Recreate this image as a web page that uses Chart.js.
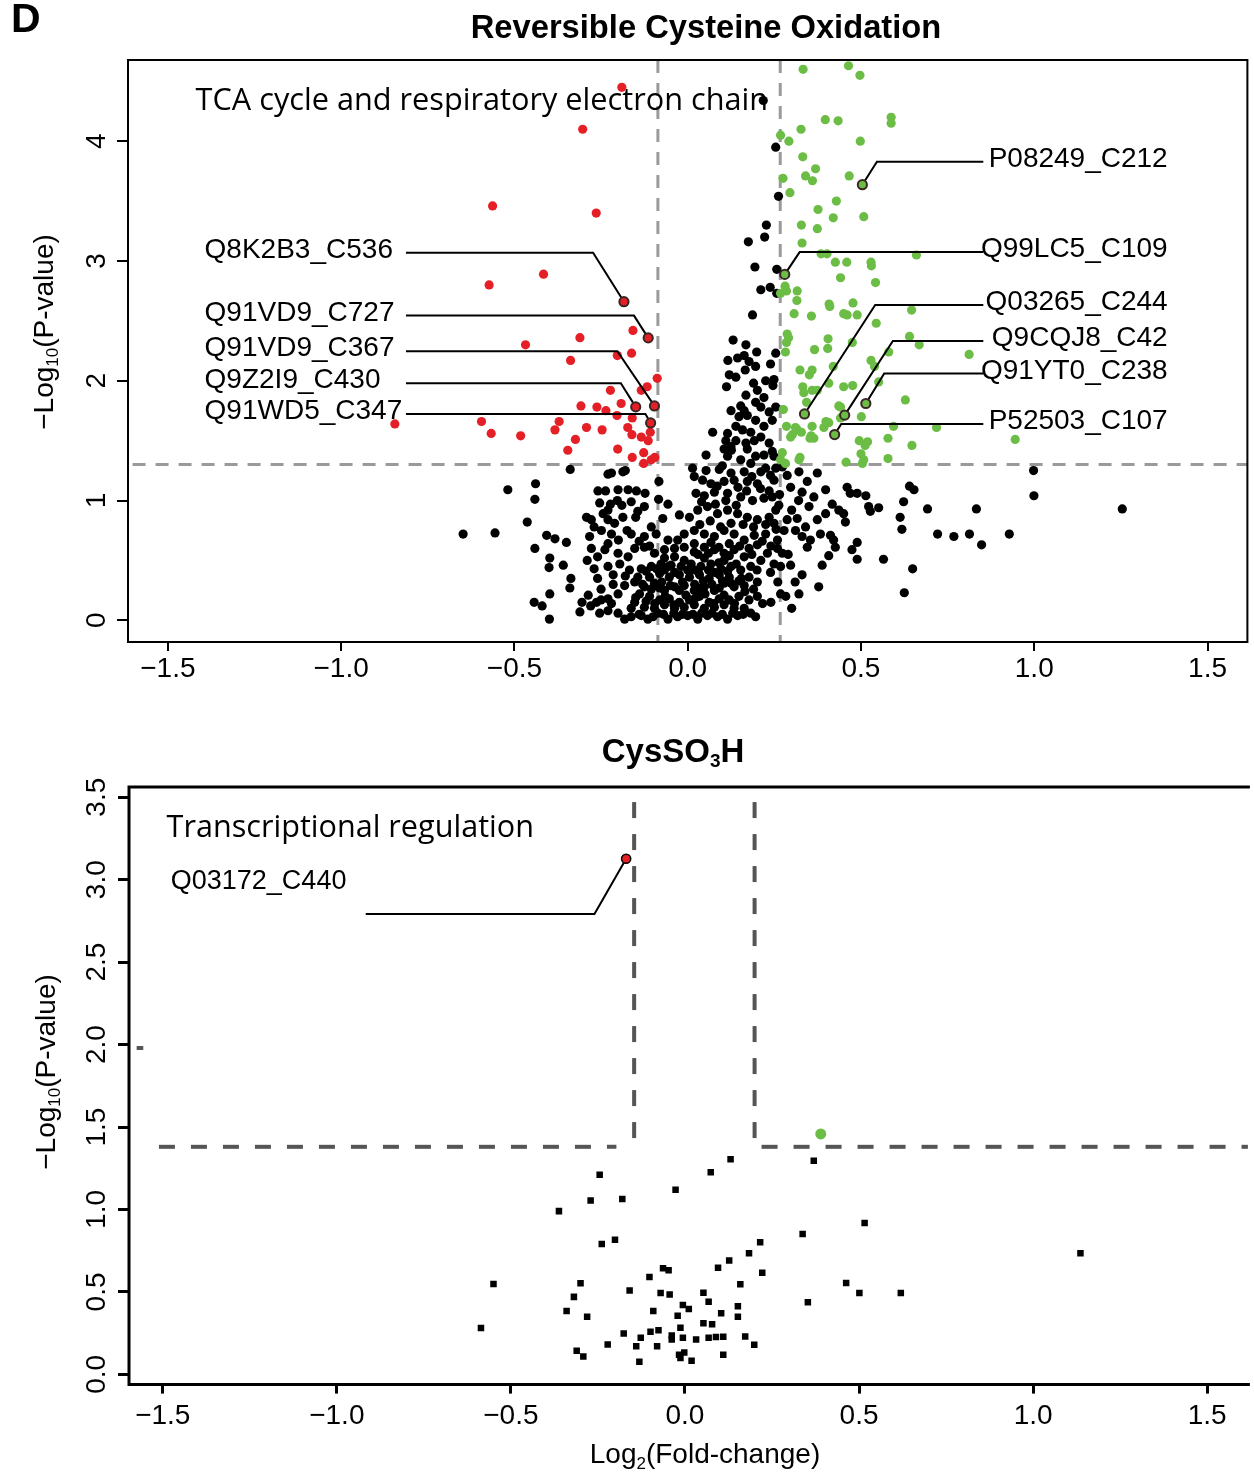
<!DOCTYPE html>
<html>
<head>
<meta charset="utf-8">
<script src="https://cdn.jsdelivr.net/npm/chart.js@4/dist/chart.umd.min.js"></script>
<style>
  body { margin: 0; background: #fff; }
  #wrap { position: relative; width: 1254px; height: 1474px; }
  canvas { position: absolute; left: 0; }
</style>
</head>
<body>
<div id="wrap">
  <canvas id="oxCanvas" width="1254" height="700" style="top:0"></canvas>
  <canvas id="soCanvas" width="1254" height="774" style="top:700px"></canvas>
</div>
<script>
// ---- Reversible Cysteine Oxidation : [log2 fold-change, -log10 p] ----
const oxBlack = [
  [0.218,4.34],[0.254,3.95],[0.262,3.54],[0.227,3.30],[0.222,3.20],[0.175,3.16],[0.194,2.95],[0.257,2.93],[0.211,2.76],[0.238,2.78],[0.257,2.73],[0.187,2.55],[0.131,2.34],
  [0.168,2.30],[0.199,2.24],[0.254,2.23],[0.116,2.17],[0.144,2.19],[0.163,2.21],[0.177,2.16],[0.196,2.12],[0.166,2.09],[0.239,2.14],[0.120,2.05],[0.139,2.03],[0.112,1.95],[0.190,1.98],[0.225,2.00],[0.249,2.01],[0.246,1.96],[0.201,1.92],[0.168,1.88],[0.220,1.86],[0.196,1.82],[0.153,1.79],[0.125,1.75],[0.163,1.75],[0.211,1.78],[0.235,1.74],[0.254,1.78],[0.148,1.70],[0.172,1.71],[0.196,1.67],[0.139,1.62],[0.072,1.57],[0.115,1.56],[0.158,1.59],[0.182,1.57],[0.220,1.62],[0.244,1.67],[0.110,1.50],[0.139,1.50],[0.192,1.50],[0.235,1.48],[0.105,1.43],[0.126,1.42],[0.172,1.43],[0.196,1.37],[0.220,1.38],[0.244,1.41],[0.053,1.38],[0.115,1.37],[0.153,1.34],[0.182,1.31],[0.249,1.37],[0.125,1.45],[0.168,1.48],[0.211,1.53],
  [-0.339,1.26],[-0.230,1.22],[-0.220,1.23],[-0.187,1.24],[-0.180,1.25],[0.254,1.27],[0.273,1.28],[0.014,1.27],[0.053,1.25],[0.091,1.26],[0.125,1.23],[0.163,1.24],[0.211,1.24],[0.239,1.21],
  [-0.439,1.14],[-0.519,1.09],[-0.441,1.01],[-0.259,1.08],[-0.237,1.08],[-0.201,1.09],[-0.172,1.09],[-0.148,1.08],[-0.123,1.06],[-0.083,1.16],[-0.084,1.01],[-0.057,0.97],[0.019,1.20],[0.043,1.17],[0.067,1.14],[0.105,1.16],[0.134,1.17],[0.172,1.16],[0.201,1.14],[0.249,1.17],[0.287,1.21],[0.321,1.24],[0.345,1.16],[0.374,1.23],
  [-0.254,0.98],[-0.223,0.97],[-0.203,1.00],[-0.163,0.99],[-0.125,0.95],[0.024,1.06],[0.048,1.04],[0.077,1.07],[0.115,1.06],[0.153,1.03],[0.187,1.00],[0.220,1.02],[0.244,1.03],[0.297,1.11],[0.330,1.07],[0.364,1.03],[0.398,1.09],
  [-0.463,0.82],[-0.648,0.72],[-0.556,0.73],[-0.292,0.86],[-0.278,0.84],[-0.244,0.89],[-0.230,0.84],[-0.211,0.81],[-0.187,0.86],[-0.144,0.91],[-0.105,0.78],[-0.072,0.85],[-0.024,0.88],[0.005,0.86],[0.029,0.92],[0.057,0.95],[0.086,0.89],[0.115,0.92],[0.144,0.89],[0.172,0.86],[0.201,0.84],[0.235,0.86],[0.254,0.92],[0.287,0.84],[0.316,0.85],[0.340,0.78],[0.374,0.84],[0.398,0.89],
  [-0.407,0.71],[-0.383,0.68],[-0.350,0.65],[-0.441,0.60],[-0.283,0.70],[-0.249,0.75],[-0.220,0.72],[-0.163,0.72],[-0.125,0.70],[-0.091,0.72],[-0.057,0.67],[-0.010,0.72],[0.019,0.75],[0.048,0.72],[0.077,0.70],[0.105,0.75],[0.134,0.72],[0.163,0.67],[0.192,0.71],[0.225,0.72],[0.259,0.67],[0.278,0.75],[0.311,0.75],[0.354,0.67],[0.383,0.72],
  [-0.398,0.52],[-0.359,0.46],[-0.400,0.44],[-0.337,0.35],[-0.278,0.60],[-0.239,0.59],[-0.201,0.56],[-0.172,0.53],[-0.153,0.60],[-0.125,0.61],[-0.096,0.56],[-0.067,0.59],[-0.038,0.60],[-0.010,0.61],[0.019,0.57],[0.048,0.61],[0.077,0.59],[0.105,0.56],[0.134,0.59],[0.163,0.53],[0.211,0.50],[0.249,0.47],[0.297,0.46],[0.345,0.61],[0.388,0.46],
  [-0.270,0.43],[-0.230,0.45],[-0.196,0.47],[-0.168,0.42],[-0.134,0.43],[-0.105,0.45],[-0.077,0.47],[-0.048,0.46],[-0.019,0.45],[0.010,0.47],[0.038,0.45],[0.067,0.47],[0.096,0.43],[0.125,0.45],[0.153,0.42],[0.182,0.45],[0.239,0.40],[0.268,0.45],[0.330,0.38],
  [-0.340,0.27],[-0.398,0.22],[-0.443,0.15],[-0.420,0.12],[-0.399,0.01],[-0.305,0.15],[-0.287,0.21],[-0.263,0.15],[-0.230,0.18],[-0.220,0.14],[-0.201,0.22],[-0.182,0.29],[-0.153,0.32],[-0.125,0.28],[-0.096,0.31],[-0.067,0.25],[-0.038,0.28],[-0.010,0.29],[0.019,0.25],[0.048,0.28],[0.077,0.25],[0.105,0.31],[0.134,0.28],[0.163,0.29],[0.201,0.32],[0.216,0.14],[0.268,0.22],[0.283,0.20],[0.321,0.22],[0.378,0.28],
  [-0.311,0.07],[-0.254,0.06],[-0.230,0.08],[-0.201,0.06],[-0.182,0.01],[-0.163,0.03],[-0.134,0.04],[-0.115,0.01],[-0.086,0.06],[-0.057,0.01],[-0.029,0.03],[0.000,0.04],[0.029,0.01],[0.057,0.04],[0.086,0.03],[0.115,0.01],[0.144,0.04],[0.182,0.06],[0.196,0.03],
  [-0.110,0.36],[-0.081,0.39],[-0.053,0.36],[-0.024,0.38],[0.005,0.36],[0.034,0.38],[0.062,0.35],[0.091,0.38],[-0.139,0.22],[-0.110,0.20],[-0.081,0.17],[-0.053,0.18],[-0.024,0.15],[0.005,0.17],[0.034,0.20],[0.062,0.15],[0.091,0.18],[0.120,0.17],[0.148,0.20],[-0.125,0.11],[-0.096,0.10],[-0.067,0.13],[-0.038,0.10],[-0.010,0.11],[0.019,0.13],[0.048,0.10],[0.077,0.11],[0.105,0.13],[0.134,0.10],
  [-0.144,0.36],[0.120,0.36],[0.148,0.33],[0.177,0.36],[-0.153,0.15],[0.177,0.17],[0.201,0.20],[-0.163,0.10],[0.163,0.10],[-0.081,0.27],[-0.024,0.25],[0.034,0.27],[0.091,0.27],[-0.067,0.42],[-0.038,0.40],[0.019,0.42],[0.077,0.40],[-0.010,0.50],[0.048,0.52],[0.105,0.50],[-0.067,0.52],[-0.038,0.53],[0.019,0.64],[0.067,0.65],[0.120,0.64],[0.177,0.60],[-0.029,0.67],[0.201,0.63],[0.230,0.56],[0.273,0.56],[0.259,0.60],[0.249,0.81],[0.263,0.96],
  [-0.140,0.05],[-0.100,0.03],[-0.070,0.05],[-0.040,0.06],[-0.015,0.05],[0.015,0.05],[0.040,0.06],[0.070,0.06],[0.100,0.05],[0.130,0.06],[0.160,0.05],
  [-0.150,0.19],[-0.120,0.16],[-0.095,0.14],[-0.065,0.20],[-0.040,0.13],[-0.005,0.21],[0.020,0.18],[0.050,0.22],[0.075,0.14],[0.105,0.21],[0.135,0.14],[0.165,0.24],
  [-0.130,0.30],[-0.105,0.26],[-0.075,0.32],[-0.050,0.29],[-0.015,0.32],[0.020,0.30],[0.045,0.33],[0.070,0.30],[0.100,0.33],[0.125,0.31],[0.155,0.35],[0.190,0.26],
  [-0.120,0.41],[-0.090,0.43],[-0.055,0.45],[0.000,0.42],[0.030,0.41],[0.060,0.42],[0.090,0.48],[0.115,0.41],[0.140,0.47],[0.200,0.42],
  [0.030,0.55],[0.060,0.56],[0.090,0.61],[0.120,0.54],[0.150,0.62],[0.185,0.55],[0.215,0.66],[0.240,0.62],
  [0.035,0.80],[0.065,0.83],[0.095,0.78],[0.125,0.81],[0.160,0.80],[0.190,0.78],[0.225,0.80],[0.255,0.76],
  [0.040,0.99],[0.080,0.97],[0.110,1.00],[0.140,0.96],[0.170,1.08],[0.210,1.10],[0.235,1.08],[0.265,1.05],
  [0.085,1.12],[0.145,1.11],[0.185,1.20],[0.225,1.27],[0.100,1.29],
  [-0.290,0.50],[-0.260,0.53],[-0.230,0.64],[-0.200,0.67],[-0.175,0.75],[-0.140,0.66],[-0.110,0.62],[-0.260,0.35],[-0.215,0.38],[-0.180,0.37],[-0.250,0.26],[-0.215,0.30],[-0.280,0.12],[-0.250,0.17],[-0.270,0.78],[-0.230,0.92],[-0.190,0.96],[-0.150,0.86],
  [0.290,0.55],[0.310,0.32],[0.300,0.10],[0.260,0.32],[0.240,0.15],[0.330,0.70],[0.300,0.92],[0.320,1.00],[0.350,0.95],
  [0.998,1.25],[0.999,1.04],[1.254,0.93],[0.460,1.11],[0.469,1.06],[0.489,1.06],[0.514,1.04],[0.417,0.97],[0.436,0.92],[0.450,0.89],[0.522,0.95],[0.551,0.94],[0.527,0.91],[0.640,1.12],[0.653,1.09],[0.623,0.99],[0.613,0.86],[0.618,0.76],[0.692,0.93],[0.833,0.93],[0.721,0.72],[0.768,0.70],[0.813,0.72],[0.928,0.72],[0.848,0.63],[0.455,0.82],[0.412,0.71],[0.421,0.67],[0.426,0.61],[0.489,0.65],[0.474,0.59],[0.489,0.51],[0.407,0.54],[0.565,0.51],[0.649,0.43],[0.625,0.23]
];
const oxDown = [
  [-0.190,4.45],[-0.303,4.10],[-0.563,3.46],[-0.264,3.40],[-0.416,2.89],[-0.573,2.80],[-0.158,2.42],[-0.311,2.36],[-0.468,2.30],[-0.162,2.23],[-0.203,2.21],[-0.338,2.17],[-0.088,2.02],[-0.117,1.95],[-0.223,1.92],[-0.134,1.92],[-0.308,1.79],[-0.262,1.78],[-0.236,1.75],[-0.192,1.81],[-0.204,1.71],[-0.160,1.69],[-0.371,1.66],[-0.595,1.66],[-0.383,1.59],[-0.292,1.61],[-0.247,1.59],[-0.173,1.61],[-0.108,1.57],[-0.567,1.56],[-0.482,1.54],[-0.161,1.55],[-0.134,1.53],[-0.114,1.50],[-0.324,1.51],[-0.346,1.42],[-0.202,1.43],[-0.160,1.36],[-0.127,1.40],[-0.095,1.36],[-0.127,1.31],[-0.105,1.34],[-0.845,1.64]
];
const oxUp = [
  [0.333,4.60],[0.464,4.63],[0.497,4.55],[0.397,4.18],[0.434,4.17],[0.587,4.20],[0.587,4.15],[0.327,4.10],[0.268,4.05],[0.292,4.00],[0.498,4.00],[0.332,3.87],[0.369,3.77],[0.340,3.71],[0.360,3.67],[0.275,3.69],[0.466,3.71],[0.295,3.57],[0.429,3.50],[0.376,3.43],[0.420,3.36],[0.508,3.37],[0.328,3.30],[0.374,3.27],[0.330,3.15],[0.385,3.06],[0.402,3.06],[0.660,3.05],[0.426,2.99],[0.459,2.99],[0.529,2.99],[0.530,2.96],[0.441,2.86],[0.542,2.82],[0.281,2.79],[0.285,2.75],[0.316,2.75],[0.268,2.73],[0.315,2.67],[0.408,2.64],[0.410,2.62],[0.477,2.65],[0.307,2.56],[0.357,2.54],[0.450,2.56],[0.460,2.55],[0.489,2.55],[0.544,2.48],[0.646,2.59],[0.640,2.37],[0.287,2.39],[0.405,2.35],
  [0.404,2.27],[0.475,2.32],[0.366,2.26],[0.668,2.30],[0.812,2.22],[0.580,2.24],[0.529,2.17],[0.539,2.12],[0.420,2.12],[0.324,2.09],[0.359,2.09],[0.351,2.05],[0.332,1.95],[0.407,1.98],[0.450,1.95],[0.476,1.96],[0.551,1.99],[0.359,1.92],[0.374,1.92],[0.335,1.90],[0.343,1.82],[0.436,1.79],[0.441,1.78],[0.628,1.84],[0.501,1.70],[0.441,1.69],[0.399,1.66],[0.407,1.65],[0.393,1.61],[0.316,1.59],[0.328,1.57],[0.359,1.62],[0.594,1.62],[0.718,1.61],[0.356,1.54],[0.364,1.52],[0.353,1.52],[0.495,1.50],[0.519,1.49],[0.512,1.46],[0.578,1.52],[0.647,1.46],[0.945,1.51],[0.500,1.39],[0.457,1.32],[0.508,1.34],[0.504,1.31],[0.578,1.35],[0.324,1.36],[0.321,1.34],
  [0.291,2.36],[0.285,2.32],[0.282,2.24],[0.276,1.76],[0.285,1.62],[0.311,1.61],[0.302,1.55],[0.297,1.53],[0.273,1.40],[0.282,1.31],[0.268,1.34]
];
const oxSiteNames = ["Q8K2B3_C536", "Q91VD9_C727", "Q91VD9_C367", "Q9Z2I9_C430", "Q91WD5_C347",
  "P08249_C212", "Q99LC5_C109", "Q03265_C244", "Q9CQJ8_C42", "Q91YT0_C238", "P52503_C107"];
const oxSiteX = [-0.184, -0.114, -0.096, -0.150, -0.107, 0.504, 0.280, 0.337, 0.453, 0.514, 0.424];
const oxSiteY = [2.66, 2.358, 1.790, 1.782, 1.648, 3.637, 2.888, 1.723, 1.713, 1.810, 1.551];
const oxCutX = [-0.086, 0.267];
const oxCutY = 1.3;
const oxXTicks = [-1.5, -1, -0.5, 0, 0.5, 1, 1.5];
const oxYTicks = [0, 1, 2, 3, 4];

// ---- CysSO3H ----
const soBlack = [
  [0.131,1.304],[0.370,1.296],[0.074,1.226],[-0.245,1.211],[-0.027,1.119],[-0.271,1.055],[-0.180,1.064],[-0.362,0.990],[0.516,0.918],[0.338,0.852],[0.216,0.801],[-0.239,0.791],[-0.201,0.817],[1.136,0.735],[0.184,0.735],[0.127,0.690],[0.095,0.647],[-0.063,0.643],[-0.047,0.632],[0.222,0.616],[-0.102,0.591],[-0.550,0.548],[-0.300,0.552],[0.463,0.554],[0.159,0.546],[-0.159,0.509],[-0.070,0.493],[-0.044,0.485],[0.053,0.495],[0.501,0.493],[0.620,0.493],[-0.319,0.470],[0.068,0.441],[0.353,0.437],[-0.006,0.421],[0.011,0.396],[0.152,0.413],[-0.340,0.384],[-0.091,0.384],[-0.281,0.349],[-0.021,0.355],[0.104,0.370],[0.152,0.349],[-0.586,0.281],[0.053,0.310],[0.078,0.304],[-0.013,0.283],[-0.176,0.248],[-0.099,0.259],[-0.076,0.267],[-0.127,0.222],[-0.038,0.236],[-0.006,0.222],[0.032,0.211],[0.068,0.222],[0.089,0.226],[0.110,0.228],[0.173,0.230],[-0.038,0.211],[-0.222,0.181],[-0.140,0.170],[-0.080,0.170],[0.199,0.179],[-0.311,0.144],[-0.292,0.109],[-0.017,0.119],[-0.002,0.133],[-0.013,0.099],[0.110,0.119],[-0.131,0.076],[0.019,0.082]
];
const soUp = [[0.390, 1.458]];
const soSiteNames = ["Q03172_C440"];
const soSiteX = [-0.169];
const soSiteY = [3.127];
const soCutX = [-0.146, 0.200];
const soCutY = 1.38;
const soXTicks = [-1.5, -1, -0.5, 0, 0.5, 1, 1.5];
const soYTicks = [0, 0.5, 1, 1.5, 2, 2.5, 3, 3.5];

const SANS = "'Liberation Sans', Arial, Helvetica, sans-serif";
const NOTE = "'Open Sans', 'Noto Sans', sans-serif";
const RED = '#e41f26';
const GREEN = '#6cbd45';

const pts = arr => arr.map(p => ({x: p[0], y: p[1]}));
const zip = (xs, ys) => xs.map((x, i) => ({x: x, y: ys[i]}));
const fmt = (v, d) => (v < 0 ? '\u2212' : '') + Math.abs(v).toFixed(d);

function fitSize(ctx, text, weight, family, width) {
  ctx.font = weight + ' 100px ' + family;
  return 100 * width / ctx.measureText(text).width;
}

// parts: [text, font, baseline shift]
function drawParts(ctx, parts, x, y, align, rot) {
  let total = 0;
  parts.forEach(p => { ctx.font = p[1]; total += ctx.measureText(p[0]).width; });
  ctx.save();
  ctx.translate(x, y);
  if (rot) ctx.rotate(rot);
  let cx = align === 'center' ? -total / 2 : (align === 'right' ? -total : 0);
  ctx.textBaseline = 'middle';
  ctx.textAlign = 'left';
  ctx.fillStyle = '#000';
  parts.forEach(p => {
    ctx.font = p[1];
    ctx.fillText(p[0], cx, p[2] || 0);
    cx += ctx.measureText(p[0]).width;
  });
  ctx.restore();
}

function makeDecor(cfg) {
  return {
    id: 'decor',
    beforeDatasetsDraw(chart) {
      const {ctx, chartArea: a, scales: {x, y}} = chart;
      ctx.save();
      ctx.beginPath();
      ctx.rect(a.left, a.top, a.right - a.left, a.bottom - a.top);
      ctx.clip();
      ctx.strokeStyle = cfg.cutColor;
      ctx.lineWidth = cfg.cutWidth;
      ctx.setLineDash(cfg.cutDash);
      cfg.cuts.forEach(s => {
        ctx.beginPath();
        ctx.moveTo(x.getPixelForValue(s[0]), y.getPixelForValue(s[1]));
        ctx.lineTo(x.getPixelForValue(s[2]), y.getPixelForValue(s[3]));
        ctx.stroke();
      });
      ctx.restore();
    },
    beforeDatasetDraw(chart, args) {
      if (args.index !== 0) return;
      const {ctx, scales: {x, y}} = chart;
      ctx.save();
      ctx.strokeStyle = '#000';
      ctx.lineWidth = 2;
      cfg.callouts.forEach(c => {
        ctx.beginPath();
        c.path.forEach((p, k) => {
          const px = x.getPixelForValue(p[0]), py = y.getPixelForValue(p[1]);
          if (k === 0) ctx.moveTo(px, py); else ctx.lineTo(px, py);
        });
        ctx.lineTo(x.getPixelForValue(cfg.siteX[c.i]), y.getPixelForValue(cfg.siteY[c.i]));
        ctx.stroke();
      });
      ctx.restore();
    },
    afterDraw(chart) {
      const {ctx, chartArea: a, scales: {x, y}} = chart;
      ctx.save();
      // frame
      ctx.strokeStyle = '#000';
      ctx.lineWidth = cfg.frameWidth;
      ctx.beginPath();
      if (cfg.openRight) {
        ctx.moveTo(a.right + 2, a.top); ctx.lineTo(a.left, a.top);
        ctx.lineTo(a.left, a.bottom); ctx.lineTo(a.right + 2, a.bottom);
      } else {
        ctx.rect(a.left, a.top, a.right - a.left, a.bottom - a.top);
      }
      ctx.stroke();
      // rotated y tick labels
      y.ticks.forEach(t => {
        drawParts(ctx, [[fmt(t.value, cfg.yDigits), '28px ' + SANS, 0]], 97, y.getPixelForValue(t.value), 'center', -Math.PI / 2);
      });
      // y title
      drawParts(ctx, [['\u2212Log', '28px ' + SANS, 0], ['10', '17px ' + SANS, 8], ['(P-value)', '28px ' + SANS, 0]],
        cfg.yTitle[0], cfg.yTitle[1], 'center', -Math.PI / 2);
      // callout labels
      cfg.callouts.forEach(c => {
        drawParts(ctx, [[cfg.siteNames[c.i], cfg.labelFont, 0]],
          x.getPixelForValue(c.text[0]), y.getPixelForValue(c.text[1]) - 2.5, c.align, 0);
      });
      // pathway note
      const n = cfg.note;
      const ns = fitSize(ctx, n.text, '400', NOTE, n.width);
      drawParts(ctx, [[n.text, ns.toFixed(1) + 'px ' + NOTE, 0]], x.getPixelForValue(n.at[0]), y.getPixelForValue(n.at[1]), 'left', 0);
      if (cfg.extra) cfg.extra(ctx, x, y);
      ctx.restore();
    }
  };
}

function axes(xr, yr, xTicks, yTicks, xH, yW, tickW, xPad) {
  return {
    x: {
      type: 'linear', min: xr[0], max: xr[1],
      afterBuildTicks: s => { s.ticks = xTicks.map(v => ({value: v})); },
      afterFit: s => { s.height = xH; },
      ticks: {color: '#000', font: {family: SANS, size: 28}, padding: xPad, maxRotation: 0, autoSkip: false,
        callback: v => fmt(v, 1)},
      grid: {drawOnChartArea: false, drawTicks: true, tickLength: 9, color: '#000', lineWidth: tickW},
      border: {display: false}
    },
    y: {
      type: 'linear', min: yr[0], max: yr[1],
      afterBuildTicks: s => { s.ticks = yTicks.map(v => ({value: v})); },
      afterFit: s => { s.width = yW; },
      ticks: {display: false},
      grid: {drawOnChartArea: false, drawTicks: true, tickLength: 11, color: '#000', lineWidth: tickW},
      border: {display: false}
    }
  };
}

const common = {
  responsive: false, animation: false, devicePixelRatio: 1, events: [],
  plugins: {legend: {display: false}, tooltip: {enabled: false}, title: {display: false}}
};

// ---------- top panel ----------
const oxCallouts = [
  {i: 0, path: [[-0.813, 3.069], [-0.273, 3.069]], text: [-1.394, 3.069], align: 'left'},
  {i: 1, path: [[-0.813, 2.544], [-0.155, 2.544]], text: [-1.394, 2.544], align: 'left'},
  {i: 2, path: [[-0.813, 2.247], [-0.203, 2.247]], text: [-1.394, 2.247], align: 'left'},
  {i: 3, path: [[-0.813, 1.980], [-0.193, 1.980]], text: [-1.394, 1.980], align: 'left'},
  {i: 4, path: [[-0.813, 1.723], [-0.122, 1.723]], text: [-1.394, 1.723], align: 'left'},
  {i: 5, path: [[0.853, 3.829], [0.546, 3.829]], text: [1.385, 3.829], align: 'right'},
  {i: 6, path: [[0.853, 3.074], [0.323, 3.074]], text: [1.385, 3.074], align: 'right'},
  {i: 7, path: [[0.853, 2.632], [0.541, 2.632]], text: [1.385, 2.632], align: 'right'},
  {i: 8, path: [[0.853, 2.333], [0.592, 2.333]], text: [1.385, 2.333], align: 'right'},
  {i: 9, path: [[0.853, 2.061], [0.567, 2.061]], text: [1.385, 2.061], align: 'right'},
  {i: 10, path: [[0.853, 1.640], [0.443, 1.640]], text: [1.385, 1.640], align: 'right'}
];

new Chart(document.getElementById('oxCanvas'), {
  type: 'scatter',
  data: {
    datasets: [
      {data: zip(oxSiteX, oxSiteY), pointRadius: 4.6, borderWidth: 2, borderColor: '#3a2626',
        backgroundColor: oxSiteX.map(v => v < 0 ? RED : GREEN)},
      {data: pts(oxUp), pointRadius: 4.6, borderWidth: 0, backgroundColor: GREEN},
      {data: pts(oxDown), pointRadius: 4.6, borderWidth: 0, backgroundColor: RED},
      {data: pts(oxBlack), pointRadius: 4.6, borderWidth: 0, backgroundColor: '#000'}
    ]
  },
  options: Object.assign({}, common, {
    layout: {padding: {top: 60, right: 2, left: 0, bottom: 0}},
    scales: axes([-1.615, 1.615], [-0.181, 4.678], oxXTicks, oxYTicks, 58, 128, 2, 1)
  }),
  plugins: [makeDecor({
    cuts: [[oxCutX[0], -1, oxCutX[0], 6], [oxCutX[1], -1, oxCutX[1], 6], [-2, oxCutY, 2, oxCutY]],
    cutColor: '#9a9a9a', cutWidth: 3, cutDash: [13, 10],
    callouts: oxCallouts, siteNames: oxSiteNames, siteX: oxSiteX, siteY: oxSiteY,
    labelFont: '28px ' + SANS, frameWidth: 2, openRight: false, yDigits: 0,
    yTitle: [45, 332],
    note: {text: 'TCA cycle and respiratory electron chain', at: [-1.420, 4.336], width: 572},
    extra: (ctx) => {
      ctx.fillStyle = '#000';
      ctx.font = 'bold 41px ' + SANS;
      ctx.textAlign = 'left';
      ctx.textBaseline = 'middle';
      ctx.fillText('D', 11, 21);
      const t = 'Reversible Cysteine Oxidation';
      const s = fitSize(ctx, t, 'bold', SANS, 471);
      drawParts(ctx, [[t, 'bold ' + s.toFixed(1) + 'px ' + SANS, 0]], 706, 29, 'center', 0);
    }
  })]
});

// ---------- bottom panel ----------
const soCallouts = [
  {i: 0, path: [[-0.917, 2.792], [-0.260, 2.792]], text: [-1.477, 2.975], align: 'left'}
];

new Chart(document.getElementById('soCanvas'), {
  type: 'scatter',
  data: {
    datasets: [
      {data: zip(soSiteX, soSiteY), pointRadius: 4.6, borderWidth: 1.5, borderColor: '#000', backgroundColor: RED},
      {data: pts(soUp), pointRadius: 5.5, borderWidth: 0, backgroundColor: GREEN},
      {data: pts(soBlack), pointStyle: 'rect', pointRadius: 4.6, borderWidth: 0, backgroundColor: '#000'}
    ]
  },
  options: Object.assign({}, common, {
    layout: {padding: {top: 87, right: 0, left: 0, bottom: 0}},
    scales: axes([-1.597, 1.617], [-0.062, 3.562], soXTicks, soYTicks, 89.4, 129, 3, 6)
  }),
  plugins: [makeDecor({
    cuts: [[soCutX[0], 1.433, soCutX[0], 4], [soCutX[1], 1.433, soCutX[1], 4],
      [-1.511, soCutY, -0.197, soCutY], [0.22, soCutY, 2, soCutY], [-1.575, 1.979, -1.556, 1.979]],
    cutColor: '#555555', cutWidth: 4, cutDash: [16, 16],
    callouts: soCallouts, siteNames: soSiteNames, siteX: soSiteX, siteY: soSiteY,
    labelFont: '27px ' + SANS, frameWidth: 3, openRight: true, yDigits: 1,
    yTitle: [47, 372],
    note: {text: 'Transcriptional regulation', at: [-1.489, 3.314], width: 367},
    extra: (ctx) => {
      drawParts(ctx, [['CysSO', 'bold 33px ' + SANS, 0], ['3', 'bold 19px ' + SANS, 9], ['H', 'bold 33px ' + SANS, 0]], 673, 53, 'center', 0);
      drawParts(ctx, [['Log', '28px ' + SANS, 0], ['2', '17px ' + SANS, 9], ['(Fold-change)', '28px ' + SANS, 0]], 705, 755, 'center', 0);
    }
  })]
});
</script>
</body>
</html>
